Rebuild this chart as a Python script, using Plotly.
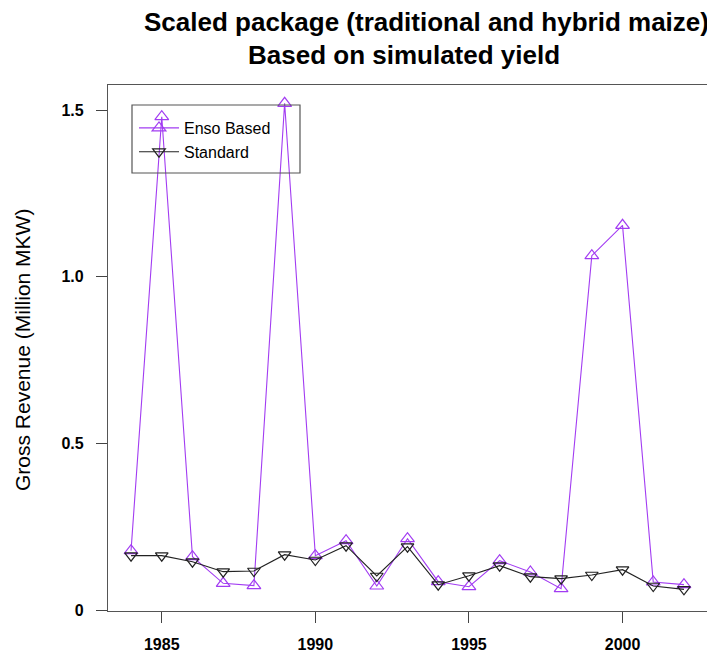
import plotly.graph_objects as go

years = list(range(1984, 2003))
enso_based = [0.178, 1.480, 0.160, 0.080, 0.073, 1.520, 0.163, 0.208, 0.072, 0.214,
              0.085, 0.070, 0.148, 0.114, 0.064, 1.063, 1.154, 0.084, 0.076]
standard = [0.163, 0.163, 0.145, 0.115, 0.117, 0.166, 0.150, 0.193, 0.102, 0.190,
            0.076, 0.103, 0.133, 0.100, 0.094, 0.105, 0.121, 0.072, 0.062]

y_tickvals = [0, 0.5, 1.0, 1.5]
y_ticktext = ["<b>0</b>", "<b>0.5</b>", "<b>1.0</b>", "<b>1.5</b>"]
x_tickvals = [1985, 1990, 1995, 2000]
x_ticktext = ["<b>1985</b>", "<b>1990</b>", "<b>1995</b>", "<b>2000</b>"]

purple = "#A23CF2"
font_family = "Liberation Sans, Arial, Helvetica, sans-serif"

# page offset from default body margin
OFF = 8
W, H = 715 - OFF, 658 - OFF
L, R, T, B = 108, 707, 85, 611
PW, PH = R - L, B - T

fig = go.Figure()
fig.add_trace(go.Scatter(
    x=years, y=enso_based, name="Enso Based", mode="lines+markers",
    line=dict(color=purple, width=1.1),
    marker=dict(symbol="triangle-up-open", size=12, color=purple, line=dict(width=1.2)),
))
fig.add_trace(go.Scatter(
    x=years, y=standard, name="Standard", mode="lines+markers",
    line=dict(color="#222222", width=1.1),
    marker=dict(symbol="triangle-down-open", size=11, color="#222222", line=dict(width=1.2)),
))

fig.update_layout(
    width=W, height=H,
    margin=dict(l=L - OFF, r=715 - R, t=T - OFF, b=658 - B, autoexpand=False),
    paper_bgcolor="white", plot_bgcolor="white",
    font=dict(family=font_family, color="black"),
    showlegend=True,
    legend=dict(x=(134 - L) / PW, y=1 - (111 - T) / PH, xanchor="left", yanchor="top",
                bgcolor="rgba(0,0,0,0)", borderwidth=0,
                font=dict(size=16, family=font_family), tracegroupgap=0,
                itemwidth=40),
    annotations=[
        dict(text="<b>Scaled package (traditional and hybrid maize)</b>",
             xref="paper", yref="paper", x=(426 - L) / PW, y=1 + (T - 22) / PH,
             xanchor="center", yanchor="middle", showarrow=False,
             font=dict(size=26, family=font_family)),
        dict(text="<b>Based on simulated yield</b>",
             xref="paper", yref="paper", x=(404 - L) / PW, y=1 + (T - 55) / PH,
             xanchor="center", yanchor="middle", showarrow=False,
             font=dict(size=26, family=font_family)),
        dict(text="Gross Revenue (Million MKW)", textangle=-90,
             xref="paper", yref="paper", x=(22 - L) / PW, y=1 - (350 - T) / PH,
             xanchor="center", yanchor="middle", showarrow=False,
             font=dict(size=21, family=font_family)),
    ],
    shapes=[
        dict(type="rect", xref="paper", yref="paper",
             x0=(132 - L) / PW, x1=(300 - L) / PW,
             y0=1 - (173 - T) / PH, y1=1 - (105 - T) / PH,
             line=dict(color="#555555", width=1.2), fillcolor="rgba(0,0,0,0)"),
    ],
)

fig.update_xaxes(
    range=[1983.25, 2002.75], tickvals=x_tickvals, ticktext=x_ticktext,
    ticks="outside", ticklen=11, automargin=False,
    tickcolor="#444444", tickwidth=1.2, showgrid=False, zeroline=False,
    showline=True, linecolor="#555555", linewidth=1.2, mirror=True,
    tickfont=dict(size=16, family=font_family), ticklabelstandoff=8,
)
fig.update_yaxes(
    range=[-0.003, 1.575], tickvals=y_tickvals, ticktext=y_ticktext,
    ticks="outside", automargin=False,
    ticklen=11, tickcolor="#444444", tickwidth=1.2, showgrid=False, zeroline=False,
    showline=True, linecolor="#555555", linewidth=1.2, mirror=True,
    tickfont=dict(size=16, family=font_family), ticklabelstandoff=9,
)

fig.write_html("out.html")
